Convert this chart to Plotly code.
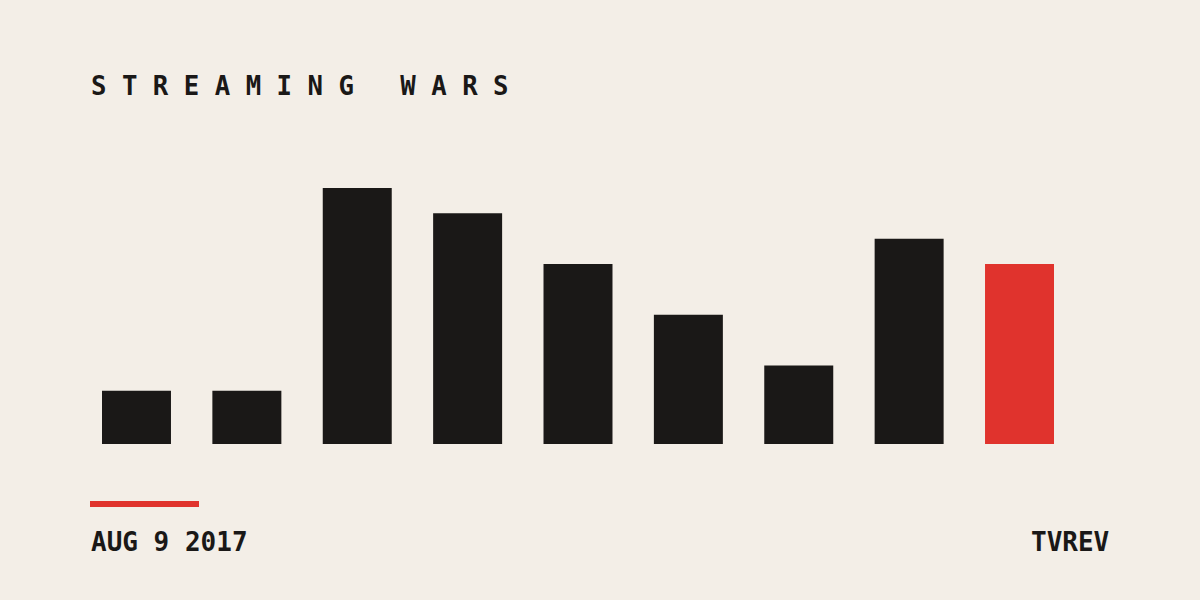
import plotly.graph_objects as go

categories = ["1", "2", "3", "4", "5", "6", "7", "8", "9"]
values = [2.1, 2.1, 10.1, 9.1, 7.1, 5.1, 3.1, 8.1, 7.1]
highlight = [False, False, False, False, False, False, False, False, True]

title_text = "STREAMING WARS"
date_text = "AUG 9 2017"
brand_text = "TVREV"

BG = "#F3EEE7"
BLACK = "#1A1817"
RED = "#E0332D"
FONT = "DejaVu Sans Mono"

W, H = 1200, 600

colors = [RED if h else BLACK for h in highlight]

fig = go.Figure(go.Bar(x=categories, y=values, marker=dict(color=colors, line=dict(width=0)),
                       width=0.625, hoverinfo="skip"))

def spaced(t):
    return "\u00a0".join(ch if ch != " " else "\u00a0" for ch in t)

fig.update_layout(
    width=W, height=H,
    paper_bgcolor=BG, plot_bgcolor=BG,
    margin=dict(l=0, r=0, t=0, b=0),
    showlegend=False,
    xaxis=dict(domain=[81.3 / W, 1074.7 / W], range=[-0.5, 8.5], visible=False, fixedrange=True),
    yaxis=dict(domain=[(H - 444) / H, (H - 188) / H], range=[0, 10.1], visible=False, fixedrange=True),
    annotations=[
        dict(text="<b>" + spaced(title_text) + "</b>", xref="paper", yref="paper",
             x=89 / W, y=1 - 86 / H, xanchor="left", yanchor="middle", showarrow=False,
             font=dict(family=FONT, size=25.7, color=BLACK)),
        dict(text="<b>" + date_text.replace(" ", "\u00a0") + "</b>", xref="paper", yref="paper",
             x=89 / W, y=1 - 542 / H, xanchor="left", yanchor="middle", showarrow=False,
             font=dict(family=FONT, size=26, color=BLACK)),
        dict(text="<b>" + brand_text + "</b>", xref="paper", yref="paper",
             x=1111 / W, y=1 - 542 / H, xanchor="right", yanchor="middle", showarrow=False,
             font=dict(family=FONT, size=26, color=BLACK)),
    ],
    shapes=[
        dict(type="rect", xref="paper", yref="paper", x0=90 / W, x1=199 / W,
             y0=1 - 507 / H, y1=1 - 501 / H, fillcolor=RED, line=dict(width=0)),
    ],
)

fig.write_html("out.html", config=dict(displayModeBar=False),
               post_script="document.body.style.margin='0';document.body.style.padding='0';"
                           "document.body.style.background='#F3EEE7';")
